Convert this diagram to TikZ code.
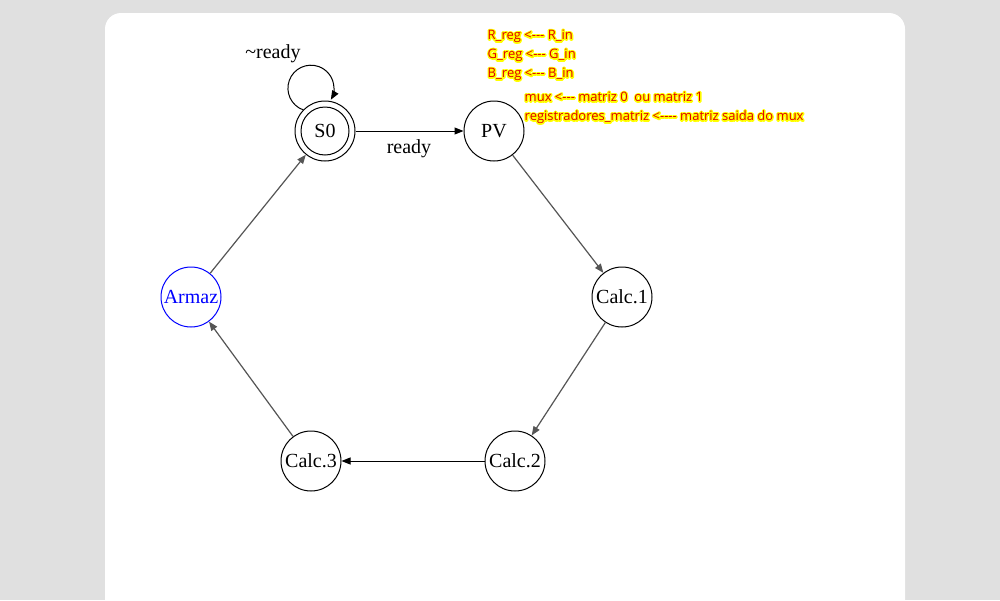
\documentclass[tikz,border=0pt]{standalone}
\usepackage{fontspec}
\setmainfont{Liberation Serif}
\newfontfamily\annfont{Open Sans}
\usetikzlibrary{arrows.meta}
\definecolor{bggray}{HTML}{E0E0E0}
\definecolor{annred}{HTML}{E00000}
\definecolor{edgegray}{HTML}{555555}
\newcommand\glowtxt[1]{%
  \rlap{\special{pdf:code q 1 Tr 2.8 w 1 j 1 1 0 RG}#1\special{pdf:code Q}}#1}
\tikzset{
  state/.style={circle,draw=black,line width=1pt,fill=white,minimum size=60pt,inner sep=0pt,font=\fontsize{20}{22}\selectfont},
  edge/.style={draw=edgegray,line width=1.2pt,-{Triangle[length=9pt,width=7pt]}},
  edgek/.style={draw=black,line width=1pt,-{Triangle[length=9pt,width=7pt]}},
  lbl/.style={font=\fontsize{20}{22}\selectfont,inner sep=0pt},
  ann/.style={anchor=base west,inner sep=0pt,text=annred,font=\annfont\fontsize{13}{15}\selectfont}
}
\begin{document}
\begin{tikzpicture}[x=1pt,y=-1pt]
\useasboundingbox (0,0) rectangle (1000,600);
\fill[bggray] (0,0) rectangle (1000,600);
\begin{scope}
\clip (0,0) rectangle (1000,600);
\fill[white,rounded corners=16pt] (105,13) rectangle (905,630);
\end{scope}

\node[state] (s0) at (325,131) {S0};
\draw[black,line width=1pt] (s0.center) circle[radius=24];
\node[state] (pv) at (494,131) {PV};
\node[state] (c1) at (622,297) {Calc.1};
\node[state] (c2) at (515,461) {Calc.2};
\node[state] (c3) at (311,461) {Calc.3};
\node[state,draw=blue,text=blue] (arm) at (191,297) {Armaz};

\draw[edgek] (s0) -- (pv);
\draw[edge] (pv) -- (c1);
\draw[edge] (c1) -- (c2);
\draw[edgek] (c2) -- (c3);
\draw[edge] (c3) -- (arm);
\draw[edge] (arm) -- (s0);
\draw[edgek] (s0.136) arc[start angle=110,end angle=390,radius=23];

\node[lbl] (lready) at (409,148.5) {ready};
\node[lbl] (lnready) at (273,53.5) {\textasciitilde ready};

\node[ann] (a1) at (487.5,39.5) {\glowtxt{R\_reg <--- R\_in}};
\node[ann] (a2) at (487.5,58.5) {\glowtxt{G\_reg <--- G\_in}};
\node[ann] (a3) at (487.5,77.5) {\glowtxt{B\_reg <--- B\_in}};
\node[ann] (a4) at (524.5,101.5) {\glowtxt{mux <--- matriz 0 \ ou matriz 1}};
\node[ann] (a5) at (524.5,120.5) {\glowtxt{registradores\_matriz <---- matriz saida do mux}};
\end{tikzpicture}
\end{document}
